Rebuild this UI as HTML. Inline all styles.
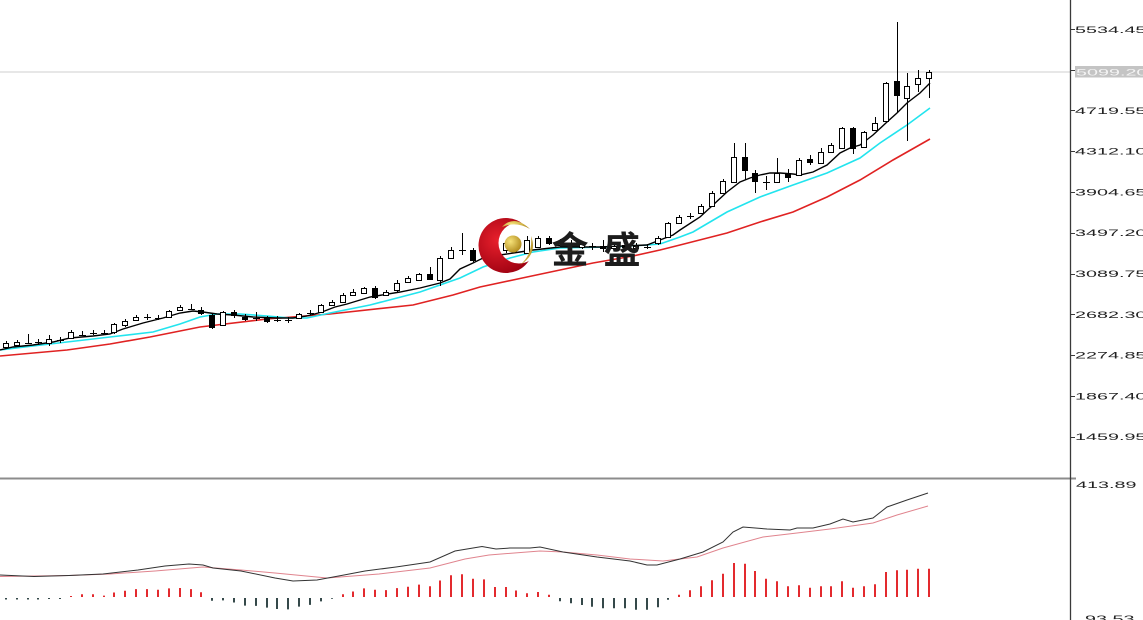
<!DOCTYPE html>
<html><head><meta charset="utf-8"><style>
html,body{margin:0;padding:0;background:#fff;overflow:hidden;width:1143px;height:620px}
svg{display:block}
.lb{font-family:"Liberation Sans",sans-serif;font-size:9.5px;fill:#222}
</style></head><body>
<svg width="1143" height="620" viewBox="0 0 1143 620" xmlns="http://www.w3.org/2000/svg">
<defs>
<mask id="cm"><rect x="470" y="210" width="80" height="80" fill="#fff"/><circle cx="519" cy="243" r="20.5" fill="#000"/></mask>
<radialGradient id="rg" cx="0.35" cy="0.4" r="0.7"><stop offset="0" stop-color="#e8202c"/><stop offset="1" stop-color="#9a0010"/></radialGradient>
<radialGradient id="gg" cx="0.35" cy="0.35" r="0.7"><stop offset="0" stop-color="#f6e27a"/><stop offset="1" stop-color="#b08a1c"/></radialGradient>
</defs>
<rect width="1143" height="620" fill="#fff"/>
<line x1="0" y1="72" x2="1071" y2="72" stroke="#cfcfcf" stroke-width="1"/>
<polyline fill="none" stroke="#e02222" stroke-width="1.6" points="0,356 67,350 110,344 150,337 200,327 267,319 330,314 413,305 453,295 480,287 527,277 560,270 593,263 633,256 660,250 680,245 727,233 760,222 793,212 827,197 860,180 893,160 930,139"/>
<polyline fill="none" stroke="#22e4ee" stroke-width="1.6" points="0,350 33,346 67,342 110,337 153,332 180,324 200,317 217,314 240,314 267,316 290,318 307,318 330,313 370,305 420,292 440,285 460,278 483,267 510,258 533,252 560,248 610,247 647,245 660,244 680,237 693,232 710,222 727,212 760,197 793,185 827,173 860,158 880,143 907,125 930,108"/>
<polyline fill="none" stroke="#000" stroke-width="1.4" points="0,350 13,347 33,345 53,342 70,338 93,336 110,334 123,329 143,323 163,318 180,313 193,311 203,312 217,314 233,315 253,317 277,318 293,318 307,316 322,312 335,307 347,304 370,297 400,292 420,288 440,283 450,279 460,269 473,263 483,258 500,255 520,252 533,250 560,247 600,247 647,245 660,240 673,235 680,230 700,217 713,205 727,192 740,182 750,178 760,175 770,173 780,173 793,174 800,175 813,172 827,165 840,153 850,148 860,145 873,135 887,122 897,113 907,103 920,93 930,83"/>
<path fill="none" stroke="#000" stroke-width="1" d="M6.5 341V349M17.5 340V347M28.5 334V344M38.5 339V345M49.5 335V346M60.5 337V343M71.5 330V339M82.5 331V336M93.5 330V335M104.5 330V335M114.5 323V334M125.5 319V327M136.5 315V321M147.5 314V320M158.5 315V320M169.5 310V318M180.5 305V311M191.5 304V310M201.5 307V315M212.5 313V329M223.5 311V326M234.5 310V318M245.5 314V321M256.5 312V321M267.5 316V323M277.5 316V322M288.5 317V323M299.5 313V319M310.5 310V315M321.5 304V313M332.5 300V306M343.5 293V303M353.5 289V296M364.5 287V294M375.5 286V299M386.5 290V296M397.5 280V292M408.5 276V283M419.5 273V281M430.5 267V280M440.5 256V286M451.5 247V259M462.5 233V255M473.5 248V262M484.5 244V256M495.5 242V252M506.5 239V253M516.5 240V252M527.5 236V254M538.5 236V248M549.5 236V245M560.5 239V247M571.5 240V248M582.5 241V249M592.5 243V250M603.5 240V252M614.5 243V250M625.5 242V249M636.5 243V250M647.5 244V249M658.5 236V245M668.5 222V238M679.5 215V224M690.5 213V219M701.5 204V214M712.5 191V207M723.5 179V194M734.5 143V183M745.5 143V180M755.5 170V193M766.5 176V190M777.5 158V183M788.5 169V182M799.5 158V176M810.5 155V165M821.5 148V164M831.5 143V153M842.5 127V149M853.5 127V154M864.5 131V148M875.5 117V131M886.5 82V122M897.5 22V113M907.5 73V141M918.5 70V92M929.5 70V98"/>
<path fill="none" stroke="#000" stroke-width="1" d="M25 343.5H32M35 342.5H42M57 340.5H64M79 335.5H86M90 333.5H97M101 333.5H108M144 317.5H151M155 318.5H162M188 309.5H195M253 318.5H260M274 320.5H281M285 320.5H292M307 313.5H314M459 250.5H466M589 246.5H596M644 247.5H651M687 216.5H694M763 182.5H770"/>
<g fill="#fff" stroke="#000" stroke-width="1">
<rect x="3.5" y="343.5" width="5" height="4"/><rect x="14.5" y="342.5" width="5" height="3"/><rect x="46.5" y="339.5" width="5" height="4"/><rect x="68.5" y="332.5" width="5" height="6"/><rect x="111.5" y="324.5" width="5" height="8"/><rect x="122.5" y="321.5" width="5" height="4"/><rect x="133.5" y="317.5" width="5" height="3"/><rect x="166.5" y="311.5" width="5" height="6"/><rect x="177.5" y="307.5" width="5" height="3"/><rect x="220.5" y="312.5" width="5" height="13"/><rect x="296.5" y="314.5" width="5" height="4"/><rect x="318.5" y="305.5" width="5" height="7"/><rect x="329.5" y="302.5" width="5" height="3"/><rect x="340.5" y="295.5" width="5" height="7"/><rect x="350.5" y="292.5" width="5" height="3"/><rect x="361.5" y="288.5" width="5" height="5"/><rect x="383.5" y="292.5" width="5" height="3"/><rect x="394.5" y="283.5" width="5" height="7"/><rect x="405.5" y="278.5" width="5" height="4"/><rect x="416.5" y="274.5" width="5" height="6"/><rect x="437.5" y="258.5" width="5" height="22"/><rect x="448.5" y="250.5" width="5" height="8"/><rect x="481.5" y="248.5" width="5" height="6"/><rect x="503.5" y="243.5" width="5" height="7"/><rect x="524.5" y="240.5" width="5" height="13"/><rect x="535.5" y="238.5" width="5" height="9"/><rect x="557.5" y="242.5" width="5" height="3"/><rect x="579.5" y="244.5" width="5" height="3"/><rect x="611.5" y="246.5" width="5" height="2"/><rect x="633.5" y="246.5" width="5" height="2"/><rect x="655.5" y="238.5" width="5" height="5"/><rect x="665.5" y="223.5" width="5" height="14"/><rect x="676.5" y="217.5" width="5" height="6"/><rect x="698.5" y="206.5" width="5" height="7"/><rect x="709.5" y="193.5" width="5" height="13"/><rect x="720.5" y="181.5" width="5" height="12"/><rect x="731.5" y="157.5" width="5" height="25"/><rect x="774.5" y="173.5" width="5" height="9"/><rect x="796.5" y="160.5" width="5" height="15"/><rect x="818.5" y="152.5" width="5" height="11"/><rect x="828.5" y="145.5" width="5" height="7"/><rect x="839.5" y="128.5" width="5" height="20"/><rect x="861.5" y="132.5" width="5" height="15"/><rect x="872.5" y="123.5" width="5" height="7"/><rect x="883.5" y="83.5" width="5" height="38"/><rect x="904.5" y="86.5" width="5" height="12"/><rect x="915.5" y="78.5" width="5" height="6"/><rect x="926.5" y="72.5" width="5" height="6"/>
</g>
<g fill="#000" stroke="#000" stroke-width="1">
<rect x="198.5" y="310.5" width="5" height="3"/><rect x="209.5" y="315.5" width="5" height="12"/><rect x="231.5" y="312.5" width="5" height="3"/><rect x="242.5" y="317.5" width="5" height="2"/><rect x="264.5" y="318.5" width="5" height="3"/><rect x="372.5" y="288.5" width="5" height="9"/><rect x="427.5" y="274.5" width="5" height="5"/><rect x="470.5" y="250.5" width="5" height="10"/><rect x="492.5" y="245.5" width="5" height="5"/><rect x="513.5" y="243.5" width="5" height="5"/><rect x="546.5" y="238.5" width="5" height="5"/><rect x="568.5" y="243.5" width="5" height="3"/><rect x="600.5" y="246.5" width="5" height="2"/><rect x="622.5" y="245.5" width="5" height="2"/><rect x="742.5" y="157.5" width="5" height="13"/><rect x="752.5" y="173.5" width="5" height="8"/><rect x="785.5" y="173.5" width="5" height="4"/><rect x="807.5" y="159.5" width="5" height="3"/><rect x="850.5" y="128.5" width="5" height="20"/><rect x="894.5" y="81.5" width="5" height="14"/>
</g>
<circle cx="506" cy="245.5" r="27.5" fill="url(#rg)" mask="url(#cm)"/>
<path d="M502 227 Q514 214 530 229 Q516 221 502 227 Z" fill="url(#gg)"/>
<path d="M520 265 Q538 254 531 236 Q533 254 520 265 Z" fill="url(#gg)"/>
<circle cx="513" cy="244" r="8.5" fill="url(#gg)"/>
<text x="570" y="263" text-anchor="middle" font-family="'Liberation Sans','Noto Sans CJK SC',sans-serif" font-weight="700" font-size="37" fill="#1c1c1c">金</text>
<text x="622" y="263" text-anchor="middle" font-family="'Liberation Sans','Noto Sans CJK SC',sans-serif" font-weight="700" font-size="37" fill="#1c1c1c">盛</text>
<rect x="0" y="477.5" width="1076" height="2" fill="#8c8c8c"/>
<polyline fill="none" stroke="#e0848e" stroke-width="1" points="0,576.5 69,575.5 110,574 155,571 203,567 241,570 275,573 327,578 379,574 430,568 465,559 489,555 540,551 563,552 597,555 630,559 663,561 697,557 723,548 763,537 797,533 830,529 873,523 897,515 928,506"/>
<polyline fill="none" stroke="#333" stroke-width="1" points="0,575 34,576.5 69,575.5 103,574 138,570 165,566 189,564 203,565 213,568 241,571 275,578 293,581 317,580 344,575 365,571 396,567 430,562 455,551 482,546.5 496,549 510,548 530,548 540,547 563,552 597,557 630,561 647,565 657,565 680,559 703,552 723,542 733,532 743,527 767,529 790,530 797,528 813,528 830,524 843,519 853,522 873,518 887,507 907,500 928,493"/>
<path fill="none" stroke="#e32a2e" stroke-width="2" d="M71 597v-1M82 597v-2.8M93 597v-2.8M104 597v-1.4M114 597v-4.5M125 597v-6.2M136 597v-7.9M147 597v-7.9M158 597v-7.2M169 597v-8.6M180 597v-9M191 597v-7.9M201 597v-4.8M343 597v-2.8M353 597v-5.5M364 597v-8.6M375 597v-7.2M386 597v-6.9M397 597v-8.9M408 597v-10.3M419 597v-12.4M430 597v-10.7M440 597v-16.5M451 597v-21.7M462 597v-22.7M473 597v-18.3M484 597v-17.6M495 597v-10M506 597v-10M516 597v-6.5M527 597v-3.8M538 597v-5M549 597v-2.3M679 597v-2.3M690 597v-6.7M701 597v-10.7M712 597v-16.7M723 597v-23.3M734 597v-34M745 597v-33.3M755 597v-26M766 597v-18.3M777 597v-15.7M788 597v-10.7M799 597v-11.7M810 597v-9.3M821 597v-10.7M831 597v-10.7M842 597v-15.7M853 597v-9.3M864 597v-10.7M875 597v-12.7M886 597v-25M897 597v-26.7M907 597v-27.3M918 597v-28.3M929 597v-28.3"/>
<path fill="none" stroke="#35494a" stroke-width="2" d="M6 598v1.5M17 598v1.5M28 598v1.5M38 598v1.5M49 598v1M60 598v1M212 598v2.8M223 598v2.4M234 598v4.5M245 598v7.6M256 598v7.9M267 598v9.6M277 598v11M288 598v11.4M299 598v8.6M310 598v6.9M321 598v3.4M332 598v0.8M560 598v3.3M571 598v5.3M582 598v7M592 598v8.7M603 598v10.3M614 598v10.3M625 598v10.3M636 598v11.7M647 598v11.7M658 598v9.3M668 598v1.7"/>
<line x1="1070.5" y1="0" x2="1070.5" y2="620" stroke="#3a3a3a" stroke-width="1.3"/>
<path fill="none" stroke="#3a3a3a" stroke-width="1" d="M1071 29.5H1075M1071 70.5H1075M1071 110.5H1075M1071 151.5H1075M1071 192.5H1075M1071 233.5H1075M1071 274.5H1075M1071 314.5H1075M1071 355.5H1075M1071 396.5H1075M1071 437.5H1075"/>
<g class="lb">
<text transform="translate(1075,32.8) scale(2.08,1)">5534.45</text>
<text transform="translate(1075,113.8) scale(2.08,1)">4719.55</text>
<text transform="translate(1075,154.6) scale(2.08,1)">4312.10</text>
<text transform="translate(1075,195.4) scale(2.08,1)">3904.65</text>
<text transform="translate(1075,236.2) scale(2.08,1)">3497.20</text>
<text transform="translate(1075,277) scale(2.08,1)">3089.75</text>
<text transform="translate(1075,317.8) scale(2.08,1)">2682.30</text>
<text transform="translate(1075,358.6) scale(2.08,1)">2274.85</text>
<text transform="translate(1075,399.4) scale(2.08,1)">1867.40</text>
<text transform="translate(1075,440.2) scale(2.08,1)">1459.95</text>
<text transform="translate(1076,488) scale(2.08,1)">413.89</text>
<text transform="translate(1085,622) scale(2.08,1)">93.53</text>
</g>
<rect x="1075" y="66" width="68" height="11.5" fill="#c4c4c4"/>
<text class="lb" style="fill:#f4f4f4" transform="translate(1076,75.4) scale(2.08,1)">5099.20</text>
</svg>
</body></html>
